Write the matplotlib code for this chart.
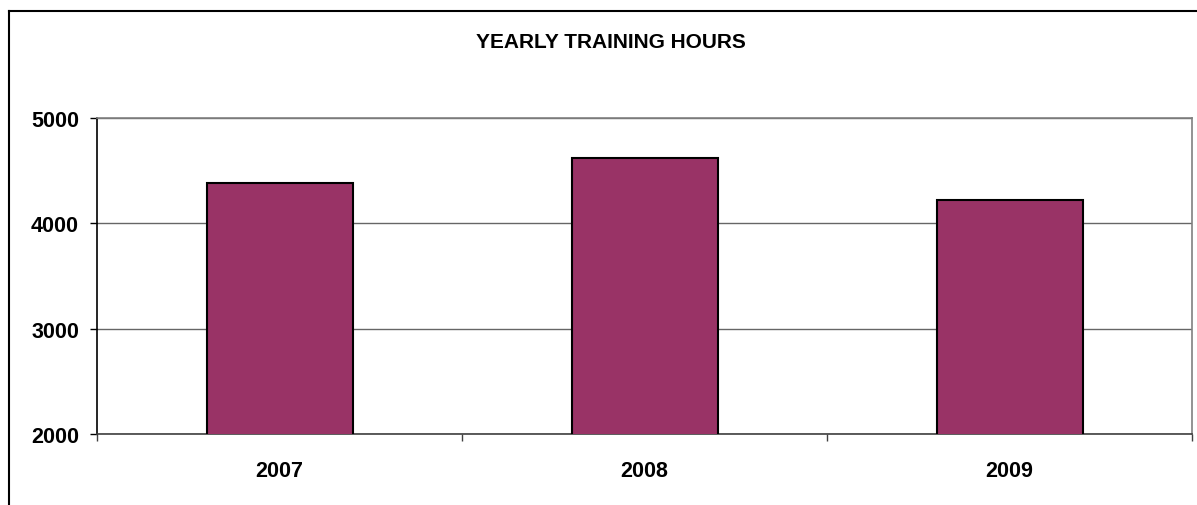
import matplotlib
matplotlib.use("Agg")
import matplotlib.pyplot as plt
from matplotlib.lines import Line2D
from matplotlib.ticker import FixedLocator

# data
years = ['2007', '2008', '2009']
hours = [4380, 4620, 4220]
y_ticks = [2000, 3000, 4000, 5000]

plt.rcParams['font.family'] = ['Liberation Sans', 'DejaVu Sans']

fig = plt.figure(figsize=(11.97, 5.06), dpi=100)
ax = fig.add_axes([97/1197, 1 - 435/506, (1192 - 97)/1197, (435 - 119)/506])

x = range(len(years))
ax.bar(x, hours, width=0.4, color='#993366', edgecolor='black', linewidth=1.5, zorder=3)

ax.set_xlim(-0.5, len(years) - 0.5)
ax.set_ylim(2000, 5000)
ax.set_yticks(y_ticks)
ax.set_yticklabels([str(v) for v in y_ticks], fontsize=15.5, fontweight='bold')
ax.set_xticks(list(x))
ax.set_xticklabels(years, fontsize=15.5, fontweight='bold')
ax.xaxis.set_minor_locator(FixedLocator([-0.5, 0.5, 1.5, 2.5]))
ax.tick_params(axis='x', which='major', length=0, pad=19)
ax.tick_params(axis='x', which='minor', length=5, color='#404040', width=1)
ax.tick_params(axis='y', which='major', length=5, width=1, pad=8)

ax.yaxis.grid(True, color='#666666', linewidth=1)
ax.set_axisbelow(True)

ax.spines['left'].set_color('black')
ax.spines['bottom'].set_color('#404040')
ax.spines['top'].set_color('#808080')
ax.spines['right'].set_color('#808080')
for s in ax.spines.values():
    s.set_linewidth(1.2)

fig.text(611/1197, 1 - 42/506, 'YEARLY TRAINING HOURS', ha='center', va='center',
         fontsize=15, fontweight='bold')

# outer chart frame (cropped on right and bottom)
fig.add_artist(Line2D([9/1197, 9/1197], [0, 1 - 12/506], color='black', linewidth=1.5,
                      transform=fig.transFigure))
fig.add_artist(Line2D([9/1197, 1], [1 - 12/506, 1 - 12/506], color='black', linewidth=1.5,
                      transform=fig.transFigure))

fig.savefig('out.png', dpi=100)
